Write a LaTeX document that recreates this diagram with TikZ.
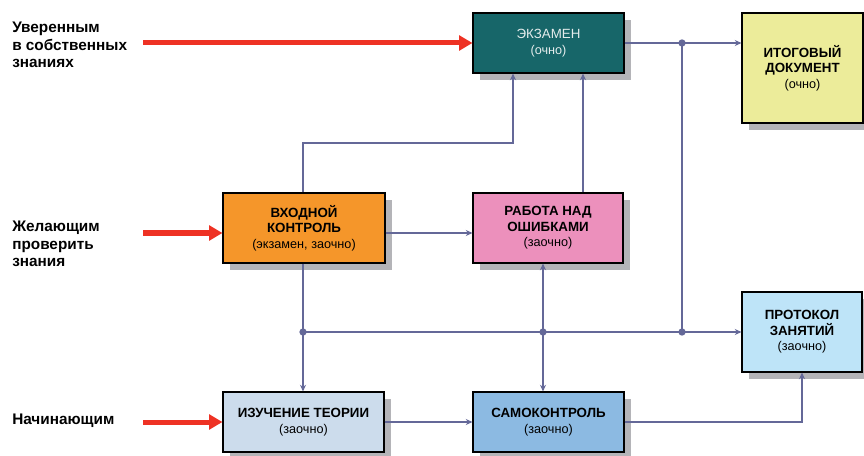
\documentclass[tikz,border=0pt]{standalone}
\usepackage{fontspec}
\setmainfont{Liberation Sans}
\usetikzlibrary{arrows.meta,shadows}
\definecolor{exfill}{RGB}{23,102,105}
\definecolor{itogfill}{RGB}{236,236,154}
\definecolor{vkhfill}{RGB}{245,150,42}
\definecolor{rabfill}{RGB}{236,144,188}
\definecolor{protfill}{RGB}{190,228,248}
\definecolor{izfill}{RGB}{204,220,236}
\definecolor{samofill}{RGB}{140,186,226}
\definecolor{shadowgray}{RGB}{180,180,184}
\definecolor{conncol}{RGB}{100,104,152}
\definecolor{redarr}{RGB}{238,50,36}
\definecolor{extext}{RGB}{228,236,236}
\tikzset{
  box/.style={draw=black, line width=0.8pt, rectangle, align=center, inner sep=2pt,
    drop shadow={shadow xshift=5.25pt, shadow yshift=-5.25pt, fill=shadowgray, opacity=1},
    font=\fontsize{10}{11.6}\selectfont},
  conn/.style={draw=conncol, line width=1.8pt, -{Stealth[length=5pt,width=4.5pt]}},
  plain/.style={draw=conncol, line width=1.8pt},
  redarrow/.style={draw=redarr, line width=3.75pt, -{Triangle[length=10pt,width=11pt]}},
  lbl/.style={anchor=west, align=left, font=\fontsize{11.5}{13.2}\selectfont\bfseries, inner sep=0pt},
  dot/.style={circle, fill=conncol, inner sep=0pt, minimum size=5.5pt},
}
\newcommand{\sub}[1]{{\fontsize{9.5}{11.6}\selectfont\mdseries #1}}
\begin{document}
\begin{tikzpicture}[x=0.75pt,y=-0.75pt]
\useasboundingbox (0,0) rectangle (864,456);
% boxes
\node[box, fill=exfill, text=extext, minimum width=113.25pt, minimum height=45pt] (ex) at (548.5,43) {ЭКЗАМЕН\\\sub{(очно)}};
\node[box, fill=itogfill, minimum width=90.75pt, minimum height=82.5pt, font=\fontsize{10}{11.6}\selectfont\bfseries] (itog) at (802.5,68) {ИТОГОВЫЙ\\ДОКУМЕНТ\\\sub{(очно)}};
\node[box, fill=vkhfill, minimum width=121.5pt, minimum height=52.5pt, font=\fontsize{10}{11.6}\selectfont\bfseries] (vkh) at (304,228) {ВХОДНОЙ\\КОНТРОЛЬ\\\sub{(экзамен, заочно)}};
\node[box, fill=rabfill, minimum width=112.5pt, minimum height=52.5pt, font=\fontsize{10}{11.6}\selectfont\bfseries] (rab) at (548,228) {РАБОТА НАД\\ОШИБКАМИ\\\sub{(заочно)}};
\node[box, fill=protfill, minimum width=90pt, minimum height=60pt, font=\fontsize{10}{11.6}\selectfont\bfseries] (prot) at (802,332) {ПРОТОКОЛ\\ЗАНЯТИЙ\\\sub{(заочно)}};
\node[box, fill=izfill, minimum width=120.75pt, minimum height=45pt, font=\fontsize{10}{11.6}\selectfont\bfseries] (iz) at (303.5,422) {ИЗУЧЕНИЕ ТЕОРИИ\\\sub{(заочно)}};
\node[box, fill=samofill, minimum width=113.25pt, minimum height=45pt, font=\fontsize{10}{11.6}\selectfont\bfseries] (samo) at (548.5,422) {САМОКОНТРОЛЬ\\\sub{(заочно)}};
% left labels
\node[lbl] (l1) at (12,45) {Уверенным\\в собственных\\знаниях};
\node[lbl] (l2) at (12,244) {Желающим\\проверить\\знания};
\node[lbl] (l3) at (12,421) {Начинающим};
% red arrows
\coordinate (r1) at (143,43);
\coordinate (r2) at (143,233);
\coordinate (r3) at (143,422);
\draw[redarrow] (r1) -- (r1 -| ex.west);
\draw[redarrow] (r2) -- (r2 -| vkh.west);
\draw[redarrow] (r3) -- (r3 -| iz.west);
% junctions
\coordinate (j1) at (682,43);
\coordinate (j2) at (682,332);
\coordinate (j3) at (303,332);
\coordinate (j4) at (543,332);
\coordinate (b1) at (303,143);
\coordinate (b2) at (513,143);
\coordinate (rx) at (583,143);
\coordinate (m) at (430,233);
% connectors
\draw[conn] (ex.east |- j1) -- (j1) -- (itog.west |- j1);
\draw[plain] (j1) -- (j2);
\draw[conn] (j3) -- (j4) -- (j2) -- (prot.west |- j2);
\draw[conn] (b1 |- vkh.north) -- (b1) -- (b2) -- (b2 |- ex.south);
\draw[conn] (rx |- rab.north) -- (rx |- ex.south);
\draw[conn] (vkh.east |- m) -- (rab.west |- m);
\draw[conn] (j3 |- vkh.south) -- (j3 |- iz.north);
\draw[conn, {Stealth[length=5pt,width=4.5pt]}-{Stealth[length=5pt,width=4.5pt]}] (j4 |- rab.south) -- (j4 |- samo.north);
\draw[conn] (iz.east) -- (samo.west);
\draw[conn] (samo.east) -| (prot.south);
% dots
\node[dot] (d1) at (j1) {};
\node[dot] (d2) at (j2) {};
\node[dot] (d3) at (j3) {};
\node[dot] (d4) at (j4) {};
\end{tikzpicture}
\end{document}
